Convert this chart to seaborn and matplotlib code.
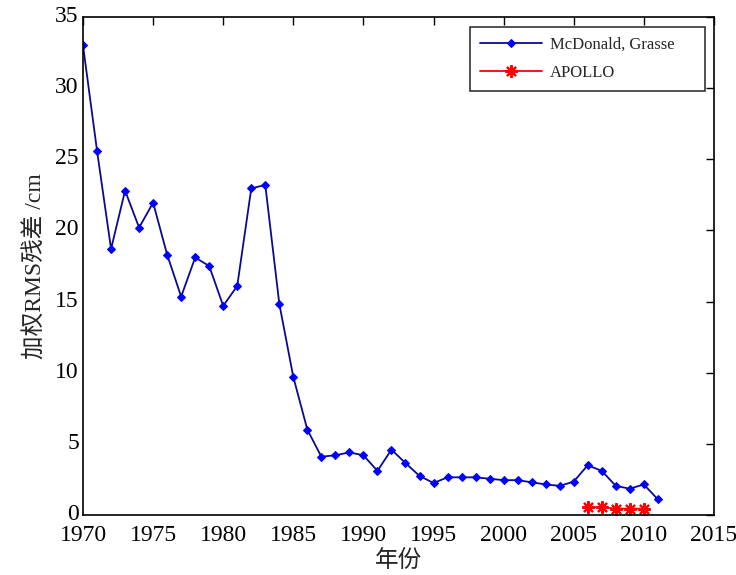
import matplotlib
matplotlib.use("Agg")
import matplotlib.pyplot as plt
import matplotlib.transforms as mtransforms
import seaborn as sns
import pandas as pd

years_mg = list(range(1970, 2012))
rms_mg = [33.0, 25.6, 18.7, 22.8, 20.2, 21.95, 18.3, 15.35, 18.1, 17.5,
          14.7, 16.1, 22.95, 23.2, 14.85, 9.7, 6.0, 4.1, 4.2, 4.4,
          4.2, 3.1, 4.6, 3.65, 2.75, 2.25, 2.65, 2.65, 2.65, 2.55,
          2.45, 2.45, 2.3, 2.15, 2.05, 2.35, 3.5, 3.1, 2.05, 1.85,
          2.15, 1.1]
years_ap = [2006, 2007, 2008, 2009, 2010]
rms_ap = [0.55, 0.55, 0.45, 0.45, 0.45]

label_mg = "McDonald, Grasse"
label_ap = "APOLLO"
xlabel = "年份"
ylabel = "加权RMS残差 /cm"
xticks = [1970, 1975, 1980, 1985, 1990, 1995, 2000, 2005, 2010, 2015]
yticks = [0, 5, 10, 15, 20, 25, 30, 35]

sns.set_theme(style="white")
plt.rcParams['font.family'] = ['Liberation Serif', 'Noto Sans CJK SC']
plt.rcParams['axes.unicode_minus'] = False

fig = plt.figure(figsize=(7.36, 5.75), dpi=100)
ax = fig.add_axes([0.1128, 0.1043, 0.970 - 0.1128, 0.9704 - 0.1043])

df_mg = pd.DataFrame({"year": years_mg, "rms": rms_mg})
df_ap = pd.DataFrame({"year": years_ap, "rms": rms_ap})

sns.lineplot(data=df_mg, x="year", y="rms", ax=ax, color="#0a0a90", lw=1.3,
             marker="D", markersize=3.8, markerfacecolor="#0000ff",
             markeredgecolor="#0000ff", label=label_mg)
sns.lineplot(data=df_ap, x="year", y="rms", ax=ax, color="#ff0000", lw=1.3,
             marker=(8, 2, 0), markersize=9, markeredgewidth=1.5,
             markerfacecolor="#ff0000", markeredgecolor="#ff0000",
             label=label_ap)

ax.set_xlim(1970, 2015)
ax.set_ylim(0, 35)
ax.set_xticks(xticks)
ax.set_yticks(yticks)
ax.tick_params(direction="in", length=6, width=1, top=True, right=True,
               labelsize=17, colors="black")
ax.tick_params(axis="x", pad=7)
ax.tick_params(axis="y", pad=3)
shift = mtransforms.ScaledTranslation(0, 3 / 100, fig.dpi_scale_trans)
for lab in ax.get_yticklabels():
    lab.set_transform(lab.get_transform() + shift)
for s in ax.spines.values():
    s.set_color("black")
    s.set_linewidth(1.2)
ax.set_xlabel(xlabel, fontsize=17, labelpad=3)
ax.set_ylabel(ylabel, fontsize=17, labelpad=6)

leg = ax.legend(loc="upper left", mode="expand", fontsize=12, frameon=True,
                fancybox=False, edgecolor="black", handlelength=3.7,
                handletextpad=0.5, borderpad=0.6, labelspacing=0.7,
                borderaxespad=0.0,
                bbox_to_anchor=(0.6133, 0.857, 0.3724, 0.123))
leg.get_frame().set_linewidth(1.2)

fig.savefig("out.png", dpi=100)
